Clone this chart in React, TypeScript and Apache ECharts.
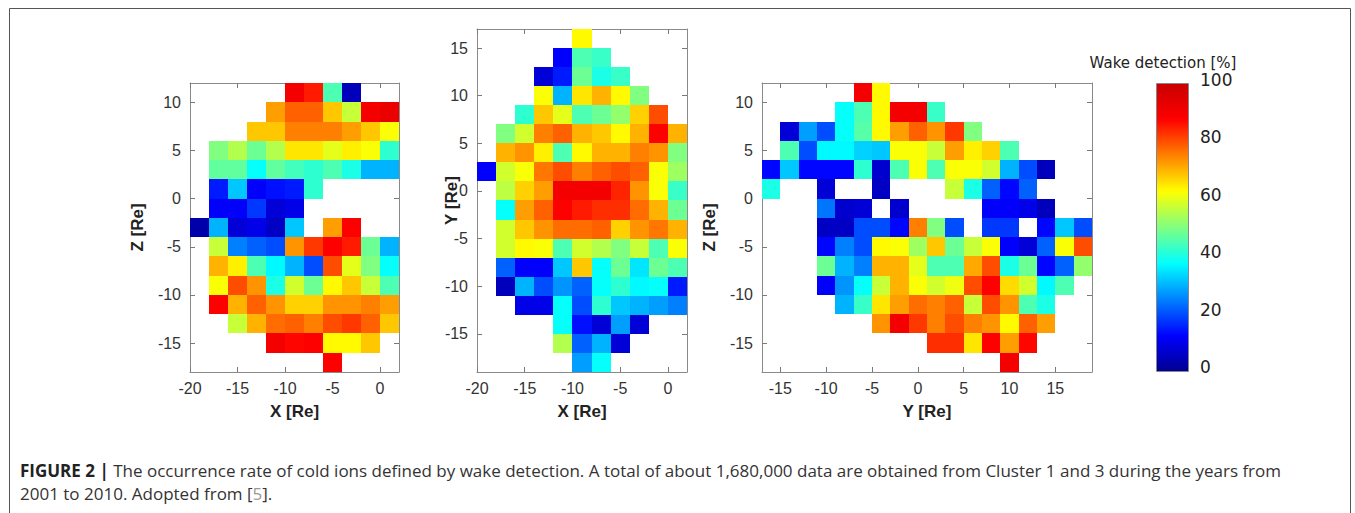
import React, { useEffect, useRef } from 'react';
import * as echarts from 'echarts';

const _ = null;
const CELL = 2;

// ---- Panel 1: X–Z plane (cell lower-left corners) ----
const p1XStarts = [-20, -18, -16, -14, -12, -10, -8, -6, -4, -2, 0];
const p1YStarts = [10, 8, 6, 4, 2, 0, -2, -4, -6, -8, -10, -12, -14, -16, -18];
const p1Values = [
  [_, _, _, _, _, 90, 85, 45, 5, _, _],
  [_, _, _, _, 72, 78, 78, 68, 57, 90, 92],
  [_, _, _, 68, 68, 75, 75, 75, 72, 68, 62],
  [_, 50, 55, 48, 55, 65, 65, 60, 64, 62, 42],
  [_, 47, 47, 38, 47, 44, 42, 45, 40, 30, 30],
  [_, 15, 32, 12, 14, 15, 42, _, _, _, _],
  [_, 12, 12, 18, 8, 10, _, _, _, _, _],
  [3, 30, 8, 10, 6, 32, _, 72, 88, _, _],
  [_, 57, 25, 22, 20, 73, 82, 88, 85, 48, 30],
  [_, 70, 64, 45, 37, 30, 20, 80, 60, 50, 38],
  [_, 62, 80, 73, 40, 58, 48, 63, 68, 57, 45],
  [_, 88, 70, 78, 73, 67, 67, 73, 73, 75, 72],
  [_, _, 57, 70, 77, 78, 75, 80, 82, 78, 68],
  [_, _, _, _, 90, 87, 88, 63, 63, 68, _],
  [_, _, _, _, _, _, _, 88, _, _, _],
];

// ---- Panel 2: X–Y plane ----
const p2XStarts = [-20, -18, -16, -14, -12, -10, -8, -6, -4, -2, 0];
const p2YStarts = [15, 13, 11, 9, 7, 5, 3, 1, -1, -3, -5, -7, -9, -11, -13, -15, -17, -19];
const p2Values = [
  [_, _, _, _, _, 63, _, _, _, _, _],
  [_, _, _, _, 12, 45, 43, _, _, _, _],
  [_, _, _, 8, 15, 48, 40, 43, _, _, _],
  [_, _, _, 62, 30, 65, 70, 63, 50, _, _],
  [_, _, 42, 68, 60, 45, 48, 52, 67, 80, _],
  [_, 50, 58, 75, 78, 70, 68, 63, 70, 88, 70],
  [_, 70, 73, 64, 45, 63, 70, 70, 75, 73, 50],
  [12, 58, 62, 76, 80, 75, 78, 80, 78, 62, 53],
  [_, 56, 67, 72, 90, 90, 90, 84, 73, 62, 43],
  [_, 38, 72, 78, 88, 85, 83, 83, 77, 70, 48],
  [_, 58, 68, 73, 77, 77, 78, 67, 73, 76, 70],
  [_, 58, 63, 62, 45, 58, 55, 50, 57, 45, 62],
  [_, 22, 12, 12, 32, 68, 38, 48, 35, 48, 45],
  [_, 5, 30, 20, 27, 22, 38, 42, 37, 38, 15],
  [_, _, 10, 10, 38, 20, 42, 32, 30, 28, 25],
  [_, _, _, _, 38, 14, 8, 28, 8, _, _],
  [_, _, _, _, 55, 22, 30, 8, _, _, _],
  [_, _, _, _, _, 28, 38, _, _, _, _],
];

// ---- Panel 3: Y–Z plane ----
const p3XStarts = [-17, -15, -13, -11, -9, -7, -5, -3, -1, 1, 3, 5, 7, 9, 11, 13, 15, 17];
const p3YStarts = [10, 8, 6, 4, 2, 0, -2, -4, -6, -8, -10, -12, -14, -16, -18];
const p3Values = [
  [_, _, _, _, _, 90, 63, _, _, _, _, _, _, _, _, _, _, _],
  [_, _, _, _, 38, 45, 63, 90, 90, 43, _, _, _, _, _, _, _, _],
  [_, 8, 28, 20, 38, 46, 63, 72, 78, 73, 82, 50, _, _, _, _, _, _],
  [_, 45, 20, 37, 37, 33, 32, 62, 62, 57, 72, 64, 67, 45, _, _, _, _],
  [13, 32, 13, 13, 13, 42, 7, 45, 62, 45, 62, 62, 58, 30, 20, 5, _, _],
  [40, _, _, 8, _, _, 6, _, _, _, 57, 40, 22, 13, 22, _, _, _],
  [_, _, _, 24, 7, 8, _, 7, _, _, _, _, 12, 12, 10, 5, _, _],
  [_, _, _, 6, 6, 20, 20, 13, 75, 50, 20, _, 18, 18, _, 13, 32, 20],
  [_, _, _, 13, 25, 20, 63, 62, 53, 68, 48, 57, 62, 12, 8, 22, 62, 80],
  [_, _, _, 48, 30, 25, 70, 70, 60, 45, 45, 71, 80, 40, 48, 13, 22, 52],
  [_, _, _, 12, 27, 38, 57, 70, 62, 58, 61, 80, 88, 66, 58, 37, 45, _],
  [_, _, _, _, 30, 43, 65, 72, 77, 75, 78, 57, 80, 73, 45, 40, _, _],
  [_, _, _, _, _, _, 73, 90, 82, 75, 80, 75, 73, 63, 78, 72, _, _],
  [_, _, _, _, _, _, _, _, _, 83, 83, 65, 88, 72, 87, _, _, _],
  [_, _, _, _, _, _, _, _, _, _, _, _, _, 90, _, _, _, _],
];

// ---- Tick labels ----
const p1XTicks = [-20, -15, -10, -5, 0];
const p1YTicks = [-15, -10, -5, 0, 5, 10];
const p2XTicks = [-20, -15, -10, -5, 0];
const p2YTicks = [-15, -10, -5, 0, 5, 10, 15];
const p3XTicks = [-15, -10, -5, 0, 5, 10, 15];
const p3YTicks = [-15, -10, -5, 0, 5, 10];
const colorbarTicks = [0, 20, 40, 60, 80, 100];

const jetColors = ['#00008F', '#0000FF', '#0080FF', '#00FFFF', '#80FF80', '#FFFF00', '#FF8000', '#FF0000', '#C80000'];

const FONT = '"Liberation Sans", Arial, Helvetica, sans-serif';
const CAPTION_FONT = '"Open Sans", "Liberation Sans", Arial, sans-serif';
const TICK_COLOR = '#7a7a7a';
const BOX_COLOR = '#8a8a8a';

function toCells(xs: number[], ys: number[], vals: (number | null)[][]) {
  const out: number[][] = [];
  vals.forEach((row, r) => {
    row.forEach((v, c) => {
      if (v !== null && v !== undefined) out.push([xs[c], ys[r], v]);
    });
  });
  return out;
}

function axesFor(
  gridIndex: number,
  xMin: number, xMax: number, xTicks: number[], xName: string,
  yMin: number, yMax: number, yTicks: number[], yName: string, yNameGap: number
) {
  const line = { show: true, onZero: false, lineStyle: { color: BOX_COLOR, width: 1 } };
  const tick = (vals: number[]) => ({
    show: true, inside: true, length: 5, customValues: vals,
    lineStyle: { color: TICK_COLOR, width: 1 },
  });
  const label = (vals: number[]) => ({
    show: true, customValues: vals, fontSize: 16, color: '#333', fontFamily: FONT,
  });
  const nameStyle = { fontSize: 17, fontWeight: 'bold', color: '#222', fontFamily: FONT };
  const x = [
    {
      type: 'value', gridIndex, position: 'bottom', min: xMin, max: xMax,
      axisLine: line, splitLine: { show: false },
      axisTick: tick(xTicks), axisLabel: { ...label(xTicks), margin: 8 },
      name: xName, nameLocation: 'middle', nameGap: 31, nameMoveOverlap: false, nameTextStyle: nameStyle,
    },
    {
      type: 'value', gridIndex, position: 'top', min: xMin, max: xMax,
      axisLine: line, splitLine: { show: false },
      axisTick: tick(xTicks), axisLabel: { show: false },
    },
  ];
  const y = [
    {
      type: 'value', gridIndex, position: 'left', min: yMin, max: yMax,
      axisLine: line, splitLine: { show: false },
      axisTick: tick(yTicks), axisLabel: { ...label(yTicks), margin: 9 },
      name: yName, nameLocation: 'middle', nameGap: yNameGap, nameRotate: 90, nameMoveOverlap: false, nameTextStyle: nameStyle,
    },
    {
      type: 'value', gridIndex, position: 'right', min: yMin, max: yMax,
      axisLine: line, splitLine: { show: false },
      axisTick: tick(yTicks), axisLabel: { show: false },
    },
  ];
  return { x, y };
}

const renderCell = (_params: any, api: any) => {
  const x = api.value(0);
  const y = api.value(1);
  const p0 = api.coord([x, y + CELL]);
  const p1 = api.coord([x + CELL, y]);
  const x0 = Math.round(p0[0]);
  const y0 = Math.round(p0[1]);
  const x1 = Math.round(p1[0]);
  const y1 = Math.round(p1[1]);
  return {
    type: 'rect',
    shape: { x: x0, y: y0, width: x1 - x0, height: y1 - y0 },
    style: { fill: api.visual('color') },
  };
};

export default function App() {
  const ref = useRef<HTMLDivElement>(null);

  useEffect(() => {
    document.body.style.margin = '0';
    if (!ref.current) return;
    const chart = echarts.init(ref.current, undefined, { renderer: 'svg' });

    const a1 = axesFor(0, -20, 2, p1XTicks, 'X [Re]', -18, 12, p1YTicks, 'Z [Re]', 44);
    const a2 = axesFor(1, -20, 2, p2XTicks, 'X [Re]', -19, 17, p2YTicks, 'Y [Re]', 17);
    const a3 = axesFor(2, -17, 19, p3XTicks, 'Y [Re]', -18, 12, p3YTicks, 'Z [Re]', 44);

    const option: any = {
      animation: false,
      backgroundColor: '#ffffff',
      grid: [
        { show: false, left: 190, top: 83, width: 209, height: 289 },
        { show: false, left: 477, top: 29, width: 210, height: 343 },
        { show: false, left: 762, top: 83, width: 330, height: 289 },
        { show: false, left: 1156, top: 80, width: 33, height: 287 },
      ],
      xAxis: [
        ...a1.x, ...a2.x, ...a3.x,
        { type: 'value', gridIndex: 3, show: false, min: 0, max: 1 },
      ],
      yAxis: [
        ...a1.y, ...a2.y, ...a3.y,
        {
          type: 'value', gridIndex: 3, position: 'right', min: 0, max: 100,
          axisLine: { show: false, onZero: false }, axisTick: { show: false }, splitLine: { show: false },
          axisLabel: {
            customValues: colorbarTicks, fontSize: 17, color: '#222', margin: 11,
            fontFamily: '"DejaVu Sans", Verdana, sans-serif',
          },
        },
      ],
      visualMap: {
        type: 'continuous',
        min: 0, max: 100,
        dimension: 2,
        seriesIndex: [0, 1, 2],
        calculable: false,
        hoverLink: false,
        orient: 'vertical',
        left: 1156, top: 83,
        itemWidth: 33, itemHeight: 289,
        padding: 0,
        text: null,
        showLabel: false,
        inRange: { color: jetColors },
      },
      series: [
        {
          type: 'custom', xAxisIndex: 0, yAxisIndex: 0, z: 1,
          data: toCells(p1XStarts, p1YStarts, p1Values), renderItem: renderCell,
        },
        {
          type: 'custom', xAxisIndex: 2, yAxisIndex: 2, z: 1,
          data: toCells(p2XStarts, p2YStarts, p2Values), renderItem: renderCell,
        },
        {
          type: 'custom', xAxisIndex: 4, yAxisIndex: 4, z: 1,
          data: toCells(p3XStarts, p3YStarts, p3Values), renderItem: renderCell,
        },
      ],
      graphic: [
        {
          type: 'rect', z: 100, silent: true,
          shape: { x: 9.5, y: 8.5, width: 1341, height: 540 },
          style: { fill: 'none', stroke: '#555', lineWidth: 1 },
        },
        {
          type: 'rect', z: 100, silent: true,
          shape: { x: 1156.5, y: 83.5, width: 32, height: 288 },
          style: { fill: 'none', stroke: '#888', lineWidth: 1 },
        },
        {
          type: 'text', z: 100, silent: true, x: 1163, y: 63,
          style: {
            text: 'Wake detection [%]', fontSize: 15, fill: '#222',
            fontFamily: '"DejaVu Sans", Verdana, sans-serif', align: 'center', verticalAlign: 'middle',
          },
        },
        {
          type: 'text', z: 100, silent: true, x: 20, y: 470,
          style: {
            text: '{b|FIGURE 2 |} The occurrence rate of cold ions defined by wake detection. A total of about 1,680,000 data are obtained from Cluster 1 and 3 during the years from',
            fontSize: 17, fill: '#333', fontFamily: CAPTION_FONT, verticalAlign: 'middle',
            rich: { b: { fontWeight: 'bold', fontSize: 17, fill: '#222', fontFamily: CAPTION_FONT } },
          },
        },
        {
          type: 'text', z: 100, silent: true, x: 20, y: 493,
          style: {
            text: '2001 to 2010. Adopted from [{g|5}].',
            fontSize: 17, fill: '#333', fontFamily: CAPTION_FONT, verticalAlign: 'middle',
            rich: { g: { fontSize: 17, fill: '#999', fontFamily: CAPTION_FONT } },
          },
        },
      ],
    };

    chart.setOption(option);
    return () => chart.dispose();
  }, []);

  return <div ref={ref} style={{ width: 1355, height: 513 }} />;
}
